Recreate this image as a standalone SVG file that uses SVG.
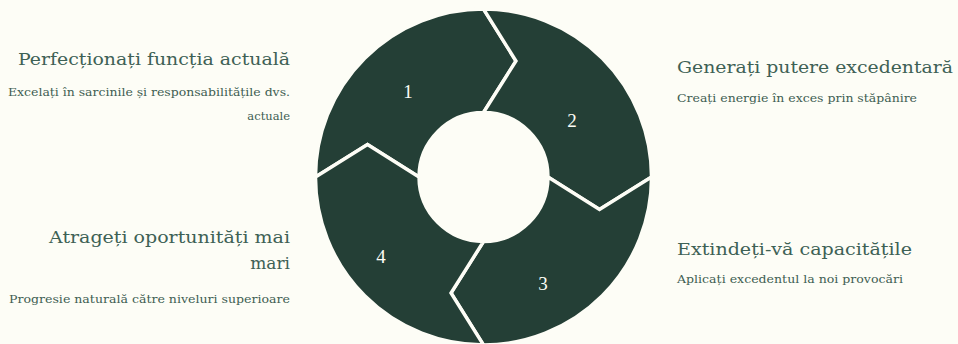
<svg xmlns="http://www.w3.org/2000/svg" width="958" height="344" viewBox="0 0 958 344">
<style>
.seg{fill:#243f36;stroke:#fdfdf6;stroke-width:3.4;stroke-linejoin:miter}
.num{font-family:"Liberation Serif","DejaVu Serif",serif;font-size:19px;fill:#fdfdf6;text-anchor:middle}
.ttl{font-family:"DejaVu Serif","Liberation Serif",serif;font-size:17px;fill:#3e6155}
.sub{font-family:"DejaVu Serif","Liberation Serif",serif;font-size:11.5px;fill:#3e5d52}
.end{text-anchor:end}
</style>
<rect width="958" height="344" fill="#fdfdf6"/>
<g id="ring">
<g id="seg1"><path class="seg" d="M315.5,177 A168,168 0 0 1 483.5,9 L516,61 L483.5,112.5 A64.5,64.5 0 0 0 419,177 L367.5,144.5 Z"/><text class="num" x="408" y="98">1</text></g>
<g id="seg2"><path class="seg" d="M483.5,9 A168,168 0 0 1 651.5,177 L599.5,209.5 L548,177 A64.5,64.5 0 0 0 483.5,112.5 L516,61 Z"/><text class="num" x="572" y="127">2</text></g>
<g id="seg3"><path class="seg" d="M651.5,177 A168,168 0 0 1 483.5,345 L451,293 L483.5,241.5 A64.5,64.5 0 0 0 548,177 L599.5,209.5 Z"/><text class="num" x="543" y="290">3</text></g>
<g id="seg4"><path class="seg" d="M483.5,345 A168,168 0 0 1 315.5,177 L367.5,144.5 L419,177 A64.5,64.5 0 0 0 483.5,241.5 L451,293 Z"/><text class="num" x="381" y="263">4</text></g>
</g>
<g id="connectors"></g>
<g id="node1"><text class="ttl end" x="290" y="65" textLength="272" lengthAdjust="spacingAndGlyphs">Perfecționați funcția actuală</text><text class="sub end" x="290" y="96" textLength="282" lengthAdjust="spacingAndGlyphs">Excelați în sarcinile și responsabilitățile dvs.</text><text class="sub end" x="290" y="120">actuale</text></g>
<g id="node2"><text class="ttl" x="677" y="73" textLength="276" lengthAdjust="spacingAndGlyphs">Generați putere excedentară</text><text class="sub" x="677" y="102" textLength="240" lengthAdjust="spacingAndGlyphs">Creați energie în exces prin stăpânire</text></g>
<g id="node3"><text class="ttl" x="677" y="255" textLength="235" lengthAdjust="spacingAndGlyphs">Extindeți-vă capacitățile</text><text class="sub" x="677" y="283" textLength="226" lengthAdjust="spacingAndGlyphs">Aplicați excedentul la noi provocări</text></g>
<g id="node4"><text class="ttl end" x="290" y="243" textLength="241" lengthAdjust="spacingAndGlyphs">Atrageți oportunități mai</text><text class="ttl end" x="290" y="269">mari</text><text class="sub end" x="290" y="303" textLength="281" lengthAdjust="spacingAndGlyphs">Progresie naturală către niveluri superioare</text></g>
</svg>
